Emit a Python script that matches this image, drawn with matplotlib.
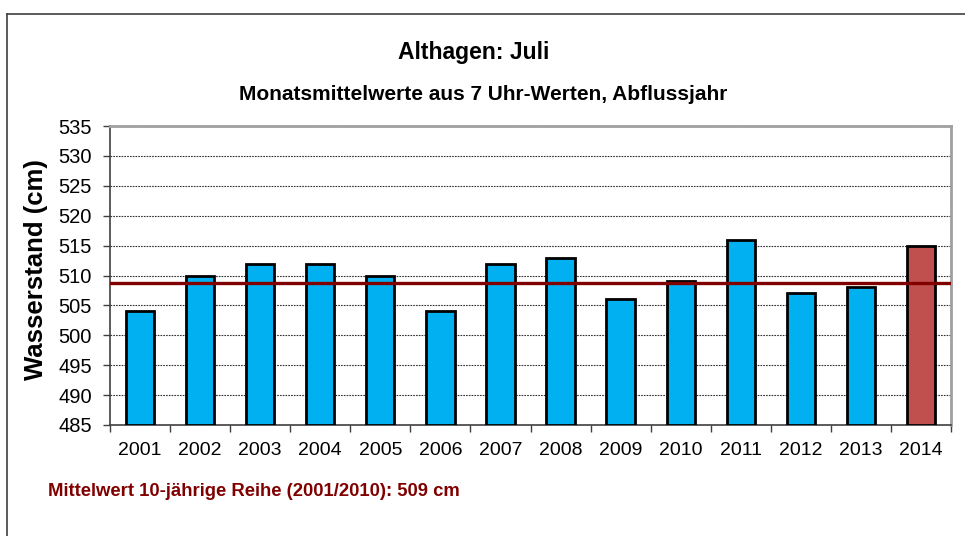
import numpy as np
import matplotlib.pyplot as plt
from matplotlib.lines import Line2D

plt.rcParams['font.family'] = ['Liberation Sans', 'DejaVu Sans']

# data
years = ['2001', '2002', '2003', '2004', '2005', '2006', '2007',
         '2008', '2009', '2010', '2011', '2012', '2013', '2014']
values = [504, 510, 512, 512, 510, 504, 512, 513, 506, 509, 516, 507, 508, 515]
mean_value = 508.8
y_ticks = list(range(485, 540, 5))

colors = ['#00B0F0'] * (len(years) - 1) + ['#C0504D']

fig = plt.figure(figsize=(9.65, 5.36), dpi=100)
W, H = 965, 536
ax = fig.add_axes([110 / W, 1 - 425 / H, (951 - 110) / W, (425 - 126) / H])

x = np.arange(len(years))
ax.bar(x, [v - 485 for v in values], bottom=485, width=0.47, color=colors,
       edgecolor='black', linewidth=2, zorder=3)
ax.axhline(mean_value, color='#800000', linewidth=2.4, zorder=4)

ax.set_xlim(-0.5, len(years) - 0.5)
ax.set_ylim(485, 535)
ax.set_yticks(y_ticks)
ax.set_xticks(x)
ax.set_xticklabels(years, fontsize=14)
ax.set_xticks(np.arange(-0.5, len(years)), minor=True)
ax.tick_params(axis='x', which='major', length=0, pad=12)
ax.tick_params(axis='x', which='minor', length=5, width=1, color='#404040')
ax.tick_params(axis='y', length=5, width=1, color='#404040', labelsize=14.5, pad=8)

ax.grid(axis='y', linestyle=(0, (1.5, 1)), color='#303030', linewidth=0.8, zorder=0)

for s in ['top', 'right']:
    ax.spines[s].set_color('#A0A0A0')
    ax.spines[s].set_linewidth(2)
for s in ['left', 'bottom']:
    ax.spines[s].set_color('#404040')
    ax.spines[s].set_linewidth(1.2)

fig.text(36 / W, 1 - 270 / H, 'Wasserstand (cm)', rotation=90, ha='center', va='center',
         fontsize=18.5, fontweight='bold')

fig.text(474 / W, 1 - 52 / H, 'Althagen: Juli', ha='center', va='center',
         fontsize=16.5, fontweight='bold')
fig.text(483 / W, 1 - 95 / H, 'Monatsmittelwerte aus 7 Uhr-Werten, Abflussjahr',
         ha='center', va='center', fontsize=15, fontweight='bold')
fig.text(48 / W, 1 - 491 / H, 'Mittelwert 10-jährige Reihe (2001/2010): 509 cm',
         ha='left', va='center', fontsize=13.3, fontweight='bold', color='#800000')

# outer chart frame (top and left only visible)
fig.add_artist(Line2D([7 / W, 1], [1 - 14 / H, 1 - 14 / H], transform=fig.transFigure,
                      color='#404040', linewidth=1.2))
fig.add_artist(Line2D([7 / W, 7 / W], [1 - 14 / H, 0], transform=fig.transFigure,
                      color='#404040', linewidth=1.2))

fig.savefig('out.png', dpi=100)
